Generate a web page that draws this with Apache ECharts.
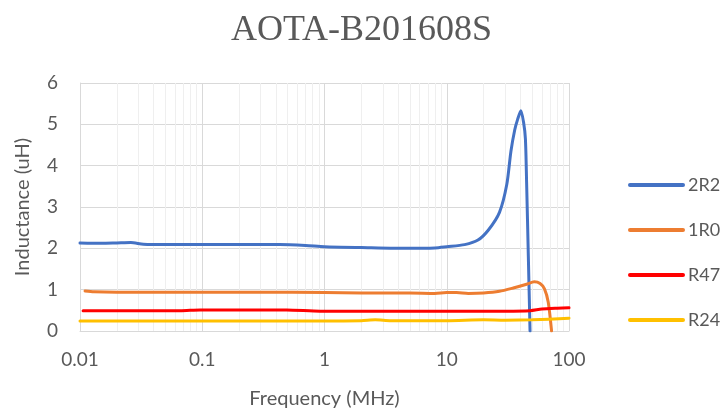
<!DOCTYPE html>
<html><head><meta charset="utf-8">
<script src="https://cdn.jsdelivr.net/npm/echarts@6/dist/echarts.min.js"></script>
<style>html,body{margin:0;padding:0;background:#fff}#c{width:723px;height:414px}</style>
</head><body><div id="c"></div>
<script>
// ---- data ----
const freq2R2 = [0.01, 0.015, 0.02, 0.026, 0.033, 0.05, 0.1, 0.2, 0.43, 0.7, 1, 2, 5, 8, 10, 14, 18, 22, 27, 31, 33.5, 36, 38, 40.4, 42.5, 44, 45, 46.5, 48];
const ind2R2  = [2.13, 2.12, 2.13, 2.14, 2.10, 2.09, 2.09, 2.09, 2.09, 2.07, 2.04, 2.02, 2.00, 2.01, 2.04, 2.09, 2.20, 2.45, 2.87, 3.55, 4.35, 4.87, 5.12, 5.33, 5.05, 4.65, 3.6, 1.8, 0];
const freq1R0 = [0.011, 0.013, 0.02, 0.05, 0.1, 0.3, 1, 2, 5, 8, 10, 12, 15, 20, 27, 35, 45, 52, 58, 63, 67.6, 72];
const ind1R0  = [0.97, 0.95, 0.94, 0.94, 0.94, 0.94, 0.93, 0.92, 0.92, 0.91, 0.93, 0.93, 0.91, 0.92, 0.96, 1.04, 1.13, 1.19, 1.15, 1.02, 0.7, 0];
const freqR47 = [0.0106, 0.03, 0.066, 0.096, 0.2, 0.49, 0.92, 3, 10, 30, 48, 60, 80, 100];
const indR47  = [0.49, 0.49, 0.49, 0.51, 0.51, 0.51, 0.48, 0.48, 0.48, 0.48, 0.49, 0.53, 0.55, 0.56];
const freqR24 = [0.01, 0.1, 1, 2, 2.6, 3.5, 10, 20, 30, 50, 100];
const indR24  = [0.24, 0.24, 0.24, 0.25, 0.27, 0.25, 0.25, 0.27, 0.26, 0.27, 0.31];
const seriesNames = ['2R2', '1R0', 'R47', 'R24'];
const xTickLabels = ['0.01', '0.1', '1', '10', '100'];
const yTickLabels = ['0', '1', '2', '3', '4', '5', '6'];
const minorX = [0.02,0.03,0.04,0.05,0.06,0.07,0.08,0.09,0.2,0.3,0.4,0.5,0.6,0.7,0.8,0.9,2,3,4,5,6,7,8,9,20,30,40,50,60,70,80,90];

const colors = ['#4472C4', '#ED7D31', '#FF0000', '#FFC000'];
const font = 'Lato, "Open Sans", sans-serif';
const zip = (a, b) => a.map((v, i) => [v, b[i]]);
const allData = [zip(freq2R2, ind2R2), zip(freq1R0, ind1R0), zip(freqR47, indR47), zip(freqR24, indR24)];

const series = [{
  type: 'line', name: '_minor', data: [], silent: true, z: 1,
  markLine: {
    silent: true, z: 1, symbol: ['none', 'none'], label: {show: false},
    lineStyle: {color: '#efefef', width: 1, type: 'solid'},
    emphasis: {disabled: true},
    data: minorX.map(v => ({xAxis: v}))
  }
}];
seriesNames.forEach((n, i) => {
  series.push({
    type: 'line', name: n, data: allData[i], showSymbol: false, symbol: 'none',
    smooth: 0.25, z: 3 + i,
    lineStyle: {color: colors[i], width: 3, cap: 'round'}, itemStyle: {color: colors[i]}
  });
});

const chart = echarts.init(document.getElementById('c'));
chart.setOption({
  animation: false,
  title: {
    text: 'AOTA-B201608S', left: 'center', top: 8,
    textStyle: {fontFamily: '"Liberation Serif", "Times New Roman", serif', fontSize: 36, fontWeight: 'normal', color: '#595959'}
  },
  grid: {left: 80, right: 154, top: 83, bottom: 82},
  legend: {
    data: seriesNames, orient: 'vertical', left: 623, top: 171,
    itemWidth: 53, itemHeight: 18, itemGap: 27,
    itemStyle: {opacity: 0},
    lineStyle: {width: 4, cap: 'round'},
    textStyle: {fontFamily: font, fontSize: 18, color: '#595959'}
  },
  xAxis: {
    type: 'log', logBase: 10, min: 0.01, max: 100,
    name: 'Frequency (MHz)', nameLocation: 'middle', nameGap: 58,
    nameTextStyle: {fontFamily: font, fontSize: 20, color: '#595959'},
    axisLine: {show: true, lineStyle: {color: '#d9d9d9'}},
    axisTick: {show: false},
    axisLabel: {fontFamily: font, fontSize: 19, color: '#595959', margin: 19,
      formatter: v => { const k = Math.round(Math.log10(v)) + 2; return xTickLabels[k] !== undefined ? xTickLabels[k] : ''; }},
    splitLine: {show: true, lineStyle: {color: '#d9d9d9', width: 1}}
  },
  yAxis: {
    type: 'value', min: 0, max: 6, interval: 1,
    name: 'Inductance (uH)', nameLocation: 'middle', nameGap: 47,
    nameTextStyle: {fontFamily: font, fontSize: 20, color: '#595959'},
    axisLine: {show: true, lineStyle: {color: '#d9d9d9'}},
    axisTick: {show: false},
    axisLabel: {fontFamily: font, fontSize: 19, color: '#595959', margin: 22,
      formatter: v => yTickLabels[Math.round(v)]},
    splitLine: {show: true, lineStyle: {color: '#d9d9d9', width: 1}}
  },
  series: series
});
</script></body></html>
